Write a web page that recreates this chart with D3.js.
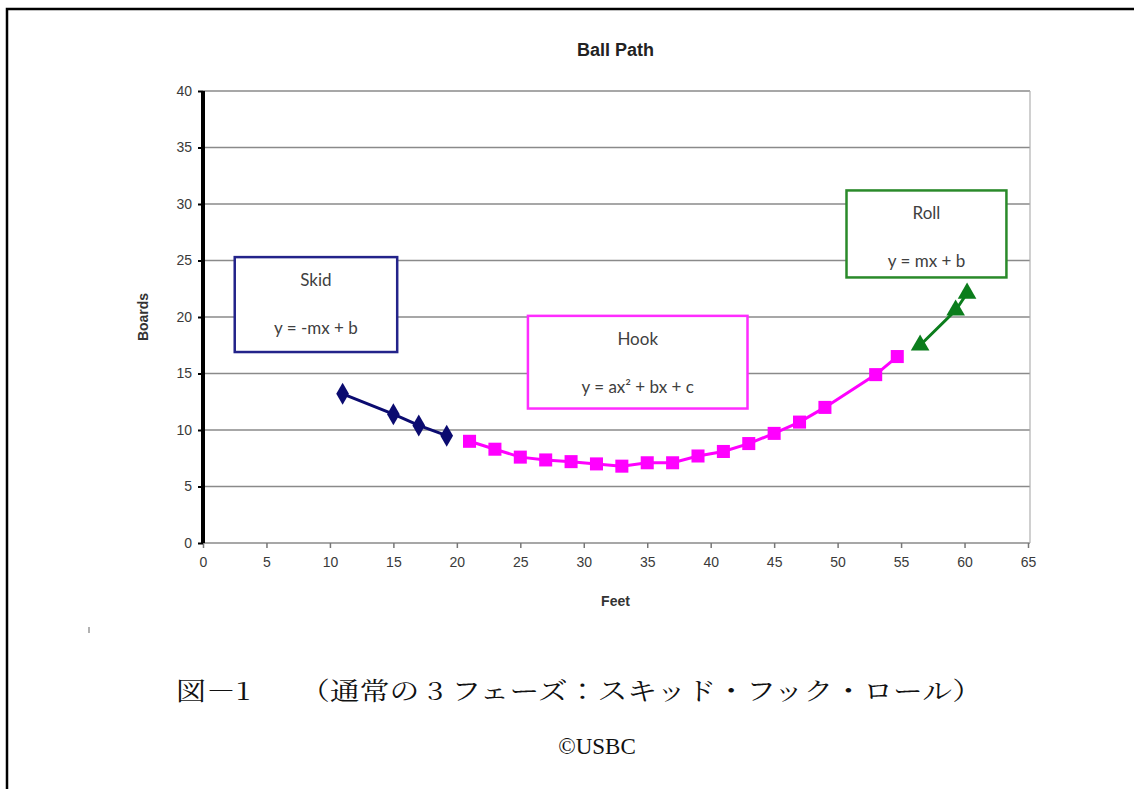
<!DOCTYPE html>
<html>
<head>
<meta charset="utf-8">
<script src="https://cdn.jsdelivr.net/npm/d3@7"></script>
<style>
  body { margin: 0; background: #fff; }
  svg { display: block; }
</style>
</head>
<body>
<div id="chart"></div>
<script>
// values
let skidFeet = [11, 15, 17, 19.2]
let skidBoards = [13.2, 11.4, 10.4, 9.5]

let hookFeet = [21, 23, 25, 27, 29, 31, 33, 35, 37, 39, 41, 43, 45, 47, 49, 53, 54.7]
let hookBoards = [9.0, 8.3, 7.6, 7.35, 7.2, 7.0, 6.8, 7.1, 7.1, 7.7, 8.1, 8.8, 9.7, 10.7, 12.0, 14.9, 16.5]

let rollFeet = [56.5, 59.3, 60.2]
let rollBoards = [17.5, 20.6, 22.1]

let xTicks = d3.range(0, 70, 5)
let yTicks = d3.range(0, 45, 5)

// annotation boxes, in data units [x0, x1, yTop, yBottom]
let boxNames = ["Skid", "Hook", "Roll"]
let boxFormulas = ["y = -mx + b", "y = ax² + bx + c", "y = mx + b"]
let boxExtents = [[2.5, 15.3, 25.3, 16.9], [25.6, 42.9, 20.1, 11.9], [50.7, 63.3, 31.2, 23.5]]
let boxColors = ["#23238a", "#ff2cff", "#2a8a2a"]

let width = 1134,
    height = 789

let svg = d3.select("#chart").append("svg")
    .attr("width", width)
    .attr("height", height)

// page frame (top and left edges only)
svg.append("path")
    .attr("d", "M7,789 V9 H1134")
    .attr("fill", "none")
    .attr("stroke", "#000")
    .attr("stroke-width", 2.5)

let x = d3.scaleLinear().domain([0, 65]).range([203, 1028])
let y = d3.scaleLinear().domain([0, 40]).range([543, 91])

// gridlines
svg.append("g")
  .selectAll("line")
  .data(yTicks)
  .enter().append("line")
    .attr("x1", x(0))
    .attr("x2", x(65) + 2)
    .attr("y1", d => y(d))
    .attr("y2", d => y(d))
    .attr("stroke", "#8a8a8a")
    .attr("stroke-width", 1.6)

// right edge of plot area
svg.append("line")
    .attr("x1", x(65) + 2).attr("x2", x(65) + 2)
    .attr("y1", y(40)).attr("y2", y(0))
    .attr("stroke", "#b0b0b0")
    .attr("stroke-width", 1.2)

// x axis
let xAxis = svg.append("g")
    .attr("transform", "translate(0," + y(0) + ")")
    .call(d3.axisBottom(x).tickValues(xTicks).tickSize(5).tickPadding(9).tickFormat(d3.format("d")))
xAxis.select(".domain").remove()
xAxis.selectAll(".tick line").attr("stroke", "#777").attr("stroke-width", 1.5)
xAxis.selectAll("text")
    .attr("fill", "#3a3a3a")
    .style("font-family", "Liberation Sans, Arial, sans-serif")
    .style("font-size", "14px")

// y axis, heavy black spine
let yAxis = svg.append("g")
    .attr("transform", "translate(" + x(0) + ",0)")
    .call(d3.axisLeft(y).tickValues(yTicks).tickSize(5).tickPadding(6).tickFormat(d3.format("d")))
yAxis.select(".domain")
    .attr("stroke", "#000")
    .attr("stroke-width", 4)
    .attr("d", "M0," + y(40) + "V" + y(0))
yAxis.selectAll(".tick line").attr("stroke", "#000").attr("stroke-width", 2)
yAxis.selectAll("text")
    .attr("fill", "#3a3a3a")
    .style("font-family", "Liberation Sans, Arial, sans-serif")
    .style("font-size", "14px")

// titles
svg.append("text")
    .attr("x", (x(0) + x(65)) / 2)
    .attr("y", 56)
    .attr("text-anchor", "middle")
    .attr("font-weight", "bold")
    .attr("fill", "#222")
    .style("font-family", "Liberation Sans, Arial, sans-serif")
    .style("font-size", "18px")
    .text("Ball Path")

svg.append("text")
    .attr("x", (x(0) + x(65)) / 2)
    .attr("y", 606)
    .attr("text-anchor", "middle")
    .attr("font-weight", "bold")
    .attr("fill", "#333")
    .style("font-family", "Liberation Sans, Arial, sans-serif")
    .style("font-size", "14px")
    .text("Feet")

svg.append("text")
    .attr("transform", "translate(148," + y(20) + ") rotate(-90)")
    .attr("text-anchor", "middle")
    .attr("font-weight", "bold")
    .attr("fill", "#333")
    .style("font-family", "Liberation Sans, Arial, sans-serif")
    .style("font-size", "14px")
    .text("Boards")

// annotation boxes
let boxes = svg.append("g")
  .selectAll("g")
  .data(boxNames)
  .enter().append("g")

boxes.append("rect")
    .attr("x", (d, i) => x(boxExtents[i][0]))
    .attr("y", (d, i) => y(boxExtents[i][2]))
    .attr("width", (d, i) => x(boxExtents[i][1]) - x(boxExtents[i][0]))
    .attr("height", (d, i) => y(boxExtents[i][3]) - y(boxExtents[i][2]))
    .attr("fill", "#fff")
    .attr("stroke", (d, i) => boxColors[i])
    .attr("stroke-width", 2.5)

boxes.append("text")
    .attr("x", (d, i) => x((boxExtents[i][0] + boxExtents[i][1]) / 2))
    .attr("y", (d, i) => y(boxExtents[i][2]) + 29)
    .attr("text-anchor", "middle")
    .attr("fill", "#404040")
    .style("font-family", "Lato, Open Sans, sans-serif")
    .style("font-size", "17px")
    .text(d => d)

boxes.append("text")
    .attr("x", (d, i) => x((boxExtents[i][0] + boxExtents[i][1]) / 2))
    .attr("y", (d, i) => y(boxExtents[i][2]) + 77)
    .attr("text-anchor", "middle")
    .attr("fill", "#404040")
    .style("font-family", "Lato, Open Sans, sans-serif")
    .style("font-size", "17px")
    .text((d, i) => boxFormulas[i])

// series
let series = [
  { feet: skidFeet, boards: skidBoards, color: "#0b0b70", symbol: d3.symbolDiamond, size: 140 },
  { feet: hookFeet, boards: hookBoards, color: "#ff00ff", symbol: d3.symbolSquare, size: 170 },
  { feet: rollFeet, boards: rollBoards, color: "#0b7d1c", symbol: d3.symbolTriangle, size: 150 }
]

let line = d3.line()
    .x(d => x(d[0]))
    .y(d => y(d[1]))

series.forEach(function(s) {
  let pts = d3.zip(s.feet, s.boards)
  svg.append("path")
      .datum(pts)
      .attr("d", line)
      .attr("fill", "none")
      .attr("stroke", s.color)
      .attr("stroke-width", 3)
  svg.append("g")
    .selectAll("path")
    .data(pts)
    .enter().append("path")
      .attr("transform", d => "translate(" + x(d[0]) + "," + y(d[1]) + ")")
      .attr("d", d3.symbol().type(s.symbol).size(s.size))
      .attr("fill", s.color)
})

// stray mark left of the caption
svg.append("line")
    .attr("x1", 89).attr("x2", 89)
    .attr("y1", 627).attr("y2", 633)
    .attr("stroke", "#999")
    .attr("stroke-width", 1.5)

// caption under the figure
let captionFont = "Noto Serif CJK JP, DejaVu Serif, Noto Sans CJK JP, serif"
svg.append("text")
    .attr("x", 176)
    .attr("y", 700)
    .attr("fill", "#111")
    .attr("textLength", 74)
    .attr("lengthAdjust", "spacingAndGlyphs")
    .style("font-family", captionFont)
    .style("font-size", "25px")
    .text("図－1")

svg.append("text")
    .attr("x", 300)
    .attr("y", 700)
    .attr("fill", "#111")
    .attr("textLength", 682)
    .attr("lengthAdjust", "spacingAndGlyphs")
    .style("font-family", captionFont)
    .style("font-size", "25px")
    .text("（通常の 3 フェーズ：スキッド・フック・ロール）")

svg.append("text")
    .attr("x", 597)
    .attr("y", 754)
    .attr("text-anchor", "middle")
    .attr("fill", "#111")
    .style("font-family", "Liberation Serif, Times New Roman, serif")
    .style("font-size", "23px")
    .text("©USBC")
</script>
</body>
</html>
